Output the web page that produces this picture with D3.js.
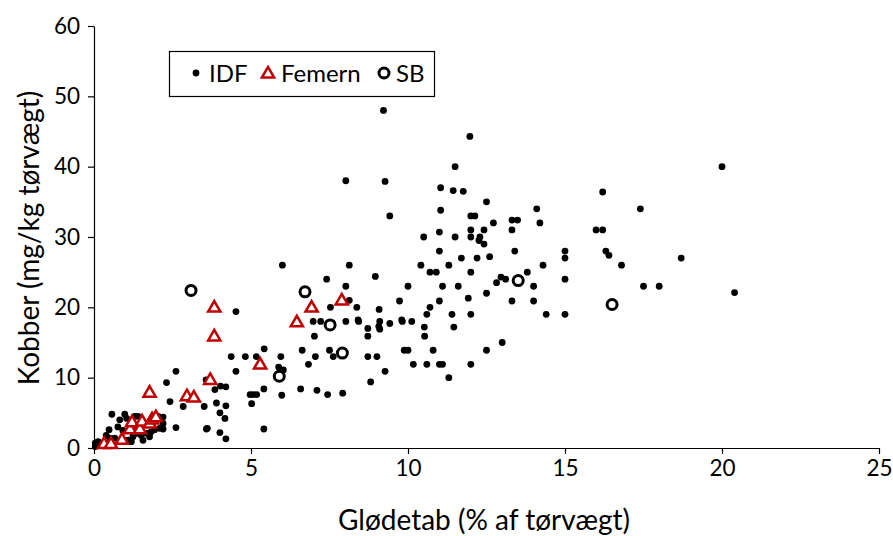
<!DOCTYPE html>
<html>
<head>
<meta charset="utf-8">
<script src="https://cdn.jsdelivr.net/npm/d3@7"></script>
<style>
  html, body { margin: 0; padding: 0; background: #fff; }
  svg { display: block; font-family: Lato, "Open Sans", sans-serif; }
</style>
</head>
<body>
<svg id="chart" width="893" height="536"></svg>
<script>
// Glødetab (% af tørvægt) vs. kobber (mg/kg tørvægt), pairs of [x, y]
const idfPoints = [
  [9.22,48.0],[11.97,44.3],[11.5,40.0],[8.02,38.0],[9.27,37.9],[11.04,37.0],[11.44,36.6],[11.76,36.5],
  [12.5,35.0],[14.1,34.0],[9.42,33.0],[11.04,33.8],[12.0,33.0],[12.13,33.0],[12.72,32.0],[13.31,32.4],
  [13.49,32.4],[14.2,32.0],[10.5,30.0],[11.0,30.7],[11.5,30.0],[12.0,31.0],[12.0,30.0],[12.42,31.0],
  [12.29,30.0],[12.26,29.5],[12.42,29.0],[13.31,31.0],[11.0,28.0],[11.7,27.0],[12.2,27.0],[12.6,27.2],
  [13.4,28.0],[15.0,28.0],[15.0,27.0],[10.41,26.0],[10.7,25.0],[10.9,25.0],[11.3,26.0],[12.0,25.0],
  [14.3,26.0],[13.8,25.0],[15.0,24.0],[10.0,23.0],[11.1,23.0],[11.6,23.0],[12.82,23.5],[12.96,24.3],
  [13.11,24.0],[14.0,23.0],
  [9.73,20.9],[11.0,20.9],[11.92,21.3],[12.5,22.0],[13.31,20.9],[14.0,20.9],[10.7,20.0],[10.6,19.0],
  [11.4,19.0],[12.0,19.0],[14.4,19.0],[15.0,19.0],[9.42,17.7],[9.8,18.2],[9.82,18.0],[10.12,18.0],
  [10.52,17.2],[10.53,15.9],[11.46,17.2],[9.88,13.9],[10.0,13.9],[10.8,13.9],[12.5,13.9],[13.0,15.0],
  [10.17,11.9],[10.6,11.9],[11.0,11.9],[11.1,11.9],[12.0,11.9],[9.27,10.9],[11.3,10.0],
  [6.0,26.0],[8.13,26.0],[7.41,24.0],[8.96,24.4],[8.02,23.0],[8.13,21.0],[7.53,20.0],[8.37,20.0],
  [9.08,19.7],[6.98,18.0],[7.22,18.0],[8.02,18.0],[8.41,18.2],[8.43,18.0],[8.72,17.0],[9.1,18.0],
  [9.07,17.3],[9.1,16.9],[7.02,15.9],[8.72,15.9],[5.42,14.1],[6.63,13.9],[7.5,13.9],[5.17,13.0],
  [5.95,13.0],[7.05,13.0],[7.62,13.0],[8.72,13.0],[9.01,13.0],[6.83,11.9],[5.88,11.5],[6.03,11.1],
  [8.81,9.4],[4.97,7.6],[5.07,7.6],[5.18,7.6],[5.02,6.3],[5.41,8.4],[5.98,7.5],[6.58,8.4],
  [7.1,8.2],[7.44,7.6],[7.92,7.8],[5.41,2.7],
  [20.0,40.0],[16.2,36.4],[17.4,34.0],[15.99,31.0],[16.2,31.0],[16.3,28.0],[16.4,27.4],[16.8,26.0],
  [18.7,27.0],[17.5,23.0],[18.0,23.0],[20.4,22.1],
  [4.52,19.4],[4.37,13.0],[4.82,13.0],[4.52,10.9],[3.57,9.7],[3.85,8.3],[4.03,8.8],[4.2,8.7],
  [3.51,5.9],[3.9,6.4],[4.2,6.0],[4.01,5.0],[4.17,4.2],[3.61,2.8],[4.01,2.2],[4.2,1.3],
  [2.61,10.9],[2.31,9.3],[2.42,6.6],[2.84,5.9],[2.61,2.9],[0.57,4.8],[0.98,4.8],[1.04,4.2],
  [1.3,4.5],[1.4,4.5],[0.82,4.0],[2.04,4.5],[2.2,4.4],[0.48,2.6],[0.76,3.0],[0.92,2.5],
  [1.3,3.0],[1.35,2.1],[1.5,1.8],[1.67,2.1],[1.77,1.6],[1.93,2.6],[2.09,2.8],[2.2,2.7],
  [2.2,3.5],[3.58,2.7],[0.04,0.7],[0.13,0.9],[0.04,0.2],[0.39,1.8],[0.5,1.4],[0.66,1.4],
  [1.08,1.1],[1.24,1.6],[1.19,0.9],[1.56,1.1],[1.82,2.3]
];

const femernPoints = [
  [0.32,0.5],[0.54,0.5],[0.89,1.1],[1.15,2.6],[1.21,3.6],[1.46,2.6],[1.53,3.7],[1.78,3.4],
  [1.85,4.0],[1.97,4.3],[1.77,7.8],[2.96,7.3],[3.18,7.1],[3.7,9.6],[3.83,15.8],[3.83,19.9],
  [5.29,11.8],[6.46,17.8],[6.93,19.9],[7.89,20.9]
];

const sbPoints = [
  [3.09,22.4],[6.72,22.2],[7.52,17.5],[7.91,13.5],[5.9,10.2],[13.51,23.8],[16.5,20.4]
];

const xTicks = [0, 5, 10, 15, 20, 25];
const yTicks = [0, 10, 20, 30, 40, 50, 60];
const seriesNames = ["IDF", "Femern", "SB"];
const xTitle = "Glødetab (% af tørvægt)";
const yTitle = "Kobber (mg/kg tørvægt)";

const red = "#c00000";
const svg = d3.select("#chart");

const x = d3.scaleLinear().domain([0, 25]).range([94, 879]);
const y = d3.scaleLinear().domain([0, 60]).range([448, 26]);

// Axes
const xAxis = svg.append("g")
  .attr("transform", `translate(0,${y(0)})`)
  .call(d3.axisBottom(x).tickValues(xTicks).tickSize(6).tickSizeOuter(0).tickPadding(6).tickFormat(d3.format("d")));
const yAxis = svg.append("g")
  .attr("transform", `translate(${x(0)},0)`)
  .call(d3.axisLeft(y).tickValues(yTicks).tickSize(6).tickSizeOuter(0).tickPadding(8).tickFormat(d3.format("d")));

[xAxis, yAxis].forEach(g => {
  g.select(".domain").attr("stroke", "#000").attr("stroke-width", 1.2);
  g.selectAll(".tick line").attr("stroke", "#000").attr("stroke-width", 1.2);
  g.selectAll(".tick text").attr("fill", "#000").style("font-size", "22.5px").style("font-family", "Lato, sans-serif");
});
xAxis.selectAll(".tick text").attr("dy", "0.72em");

// Axis titles
svg.append("text")
  .attr("x", 484).attr("y", 530)
  .attr("text-anchor", "middle")
  .style("font-size", "28px").attr("fill", "#000")
  .text(xTitle);
svg.append("text")
  .attr("transform", "translate(39,238) rotate(-90)")
  .attr("text-anchor", "middle")
  .style("font-size", "28px").attr("fill", "#000")
  .text(yTitle);

// Series markers
const tri = d3.symbol().type(d3.symbolTriangle).size(64);

svg.append("g").selectAll("circle")
  .data(idfPoints).join("circle")
  .attr("cx", d => x(d[0])).attr("cy", d => y(d[1]))
  .attr("r", 3.4).attr("fill", "#000");

svg.append("g").selectAll("path")
  .data(femernPoints).join("path")
  .attr("transform", d => `translate(${x(d[0])},${y(d[1])})`)
  .attr("d", tri)
  .attr("fill", "#fff").attr("stroke", red).attr("stroke-width", 2.5)
  .attr("stroke-linejoin", "miter");

svg.append("g").selectAll("circle")
  .data(sbPoints).join("circle")
  .attr("cx", d => x(d[0])).attr("cy", d => y(d[1]))
  .attr("r", 5).attr("fill", "#fff").attr("stroke", "#000").attr("stroke-width", 3);

// Legend
const legend = svg.append("g");
legend.append("rect")
  .attr("x", 169.5).attr("y", 51.5).attr("width", 265).attr("height", 45)
  .attr("fill", "#fff").attr("stroke", "#000").attr("stroke-width", 1.2);
legend.append("circle").attr("cx", 196).attr("cy", 73).attr("r", 3.4).attr("fill", "#000");
legend.append("path").attr("transform", "translate(268,74)").attr("d", tri)
  .attr("fill", "#fff").attr("stroke", red).attr("stroke-width", 2.5);
legend.append("circle").attr("cx", 384).attr("cy", 73).attr("r", 5)
  .attr("fill", "#fff").attr("stroke", "#000").attr("stroke-width", 3);
const legendX = [209, 281, 396];
seriesNames.forEach((name, i) => {
  legend.append("text")
    .attr("x", legendX[i]).attr("y", 82)
    .style("font-size", "24px").attr("fill", "#000")
    .text(name);
});
</script>
</body>
</html>
